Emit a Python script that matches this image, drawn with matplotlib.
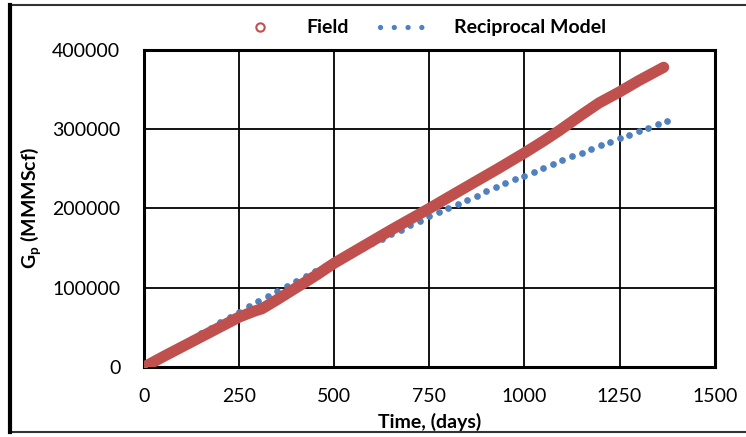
import matplotlib.pyplot as plt
from matplotlib.lines import Line2D

plt.rcParams['font.family'] = ['Lato', 'DejaVu Sans']
plt.rcParams['mathtext.fontset'] = 'custom'
plt.rcParams['mathtext.rm'] = 'Lato:bold'
plt.rcParams['mathtext.bf'] = 'Lato:bold'

# field cumulative production
field_days = [0, 25, 50, 100, 150, 200, 250, 290, 310, 350, 400, 450, 500, 550,
              600, 650, 700, 750, 800, 872, 930, 1000, 1050, 1091, 1150, 1196,
              1250, 1300, 1366]
field_gp = [0, 6500, 13000, 25500, 38000, 50500, 63000, 70500, 73500, 85000,
            100000, 115000, 131000, 145000, 159000, 173000, 186500, 200000,
            214000, 234000, 250000, 270000, 285000, 298000, 318000, 333000,
            347000, 361000, 378000]

# reciprocal model, one point every 25 days
model_days = list(range(0, 1376, 25))
model_gp = [0, 7400, 14600, 21800, 28900, 36000, 42900, 49800, 56600, 63400,
            70000, 76600, 83100, 89600, 96000, 102300, 108600, 114800, 120900,
            127000, 133000, 138900, 144800, 150600, 156400, 162100, 167800,
            173400, 178900, 184400, 189900, 195300, 200600, 205900, 211100,
            216300, 221500, 226500, 231600, 236600, 241500, 246500, 251300,
            256100, 260900, 265600, 270300, 275000, 279600, 284200, 288700,
            293200, 297600, 302000, 306400, 310700]

x_ticks = [0, 250, 500, 750, 1000, 1250, 1500]
y_ticks = [0, 100000, 200000, 300000, 400000]

red = '#c0504d'
blue = '#4f81bd'

fig = plt.figure(figsize=(7.46, 4.37), dpi=100)
ax = fig.add_axes([0.193, 0.160, 0.765, 0.726])

ax.plot(model_days, model_gp, linestyle='none', marker='o', ms=3.8,
        color=blue, mec=blue, zorder=3)
ax.plot(field_days, field_gp, color=red, lw=8, solid_capstyle='round',
        solid_joinstyle='round', zorder=4)

ax.set_xlim(0, 1500)
ax.set_ylim(0, 400000)
ax.set_xticks(x_ticks)
ax.set_yticks(y_ticks)
ax.set_xticklabels([str(v) for v in x_ticks])
ax.set_yticklabels([str(v) for v in y_ticks])
ax.tick_params(length=0, labelsize=14)
ax.tick_params(axis='y', pad=17)
ax.tick_params(axis='x', pad=15)
ax.grid(True, color='black', lw=1.3)
ax.set_axisbelow(True)
for s in ax.spines.values():
    s.set_linewidth(2.2)
    s.set_color('black')

ax.set_xlabel('Time, (days)', fontsize=14, fontweight='bold', labelpad=6)
ax.set_ylabel(r'G$_\mathrm{p}$ (MMMScf)', fontsize=14, fontweight='bold', labelpad=6)

handles = [
    Line2D([], [], linestyle='none', marker='o', ms=6, mfc='none', mec=red, mew=1.5),
    Line2D([], [], color=blue, lw=3.8, linestyle=(0, (0.01, 2.6)),
           dash_capstyle='round'),
]
fig.legend(handles, ['Field', 'Reciprocal Model'], loc='center',
           bbox_to_anchor=(0.562, 0.936), ncol=2, frameon=False,
           prop={'weight': 'bold', 'size': 14}, handlelength=2.8,
           handletextpad=1.0, columnspacing=1.6)

# outer border
fig.add_artist(Line2D([0.014, 1.0], [0.9886, 0.9886], color='#333333', lw=1.5))
fig.add_artist(Line2D([0.014, 1.0], [0.0114, 0.0114], color='#333333', lw=1.5))
fig.add_artist(Line2D([0.014, 0.014], [0.0114, 0.9886], color='black', lw=3))

fig.savefig('out.png', dpi=100)
